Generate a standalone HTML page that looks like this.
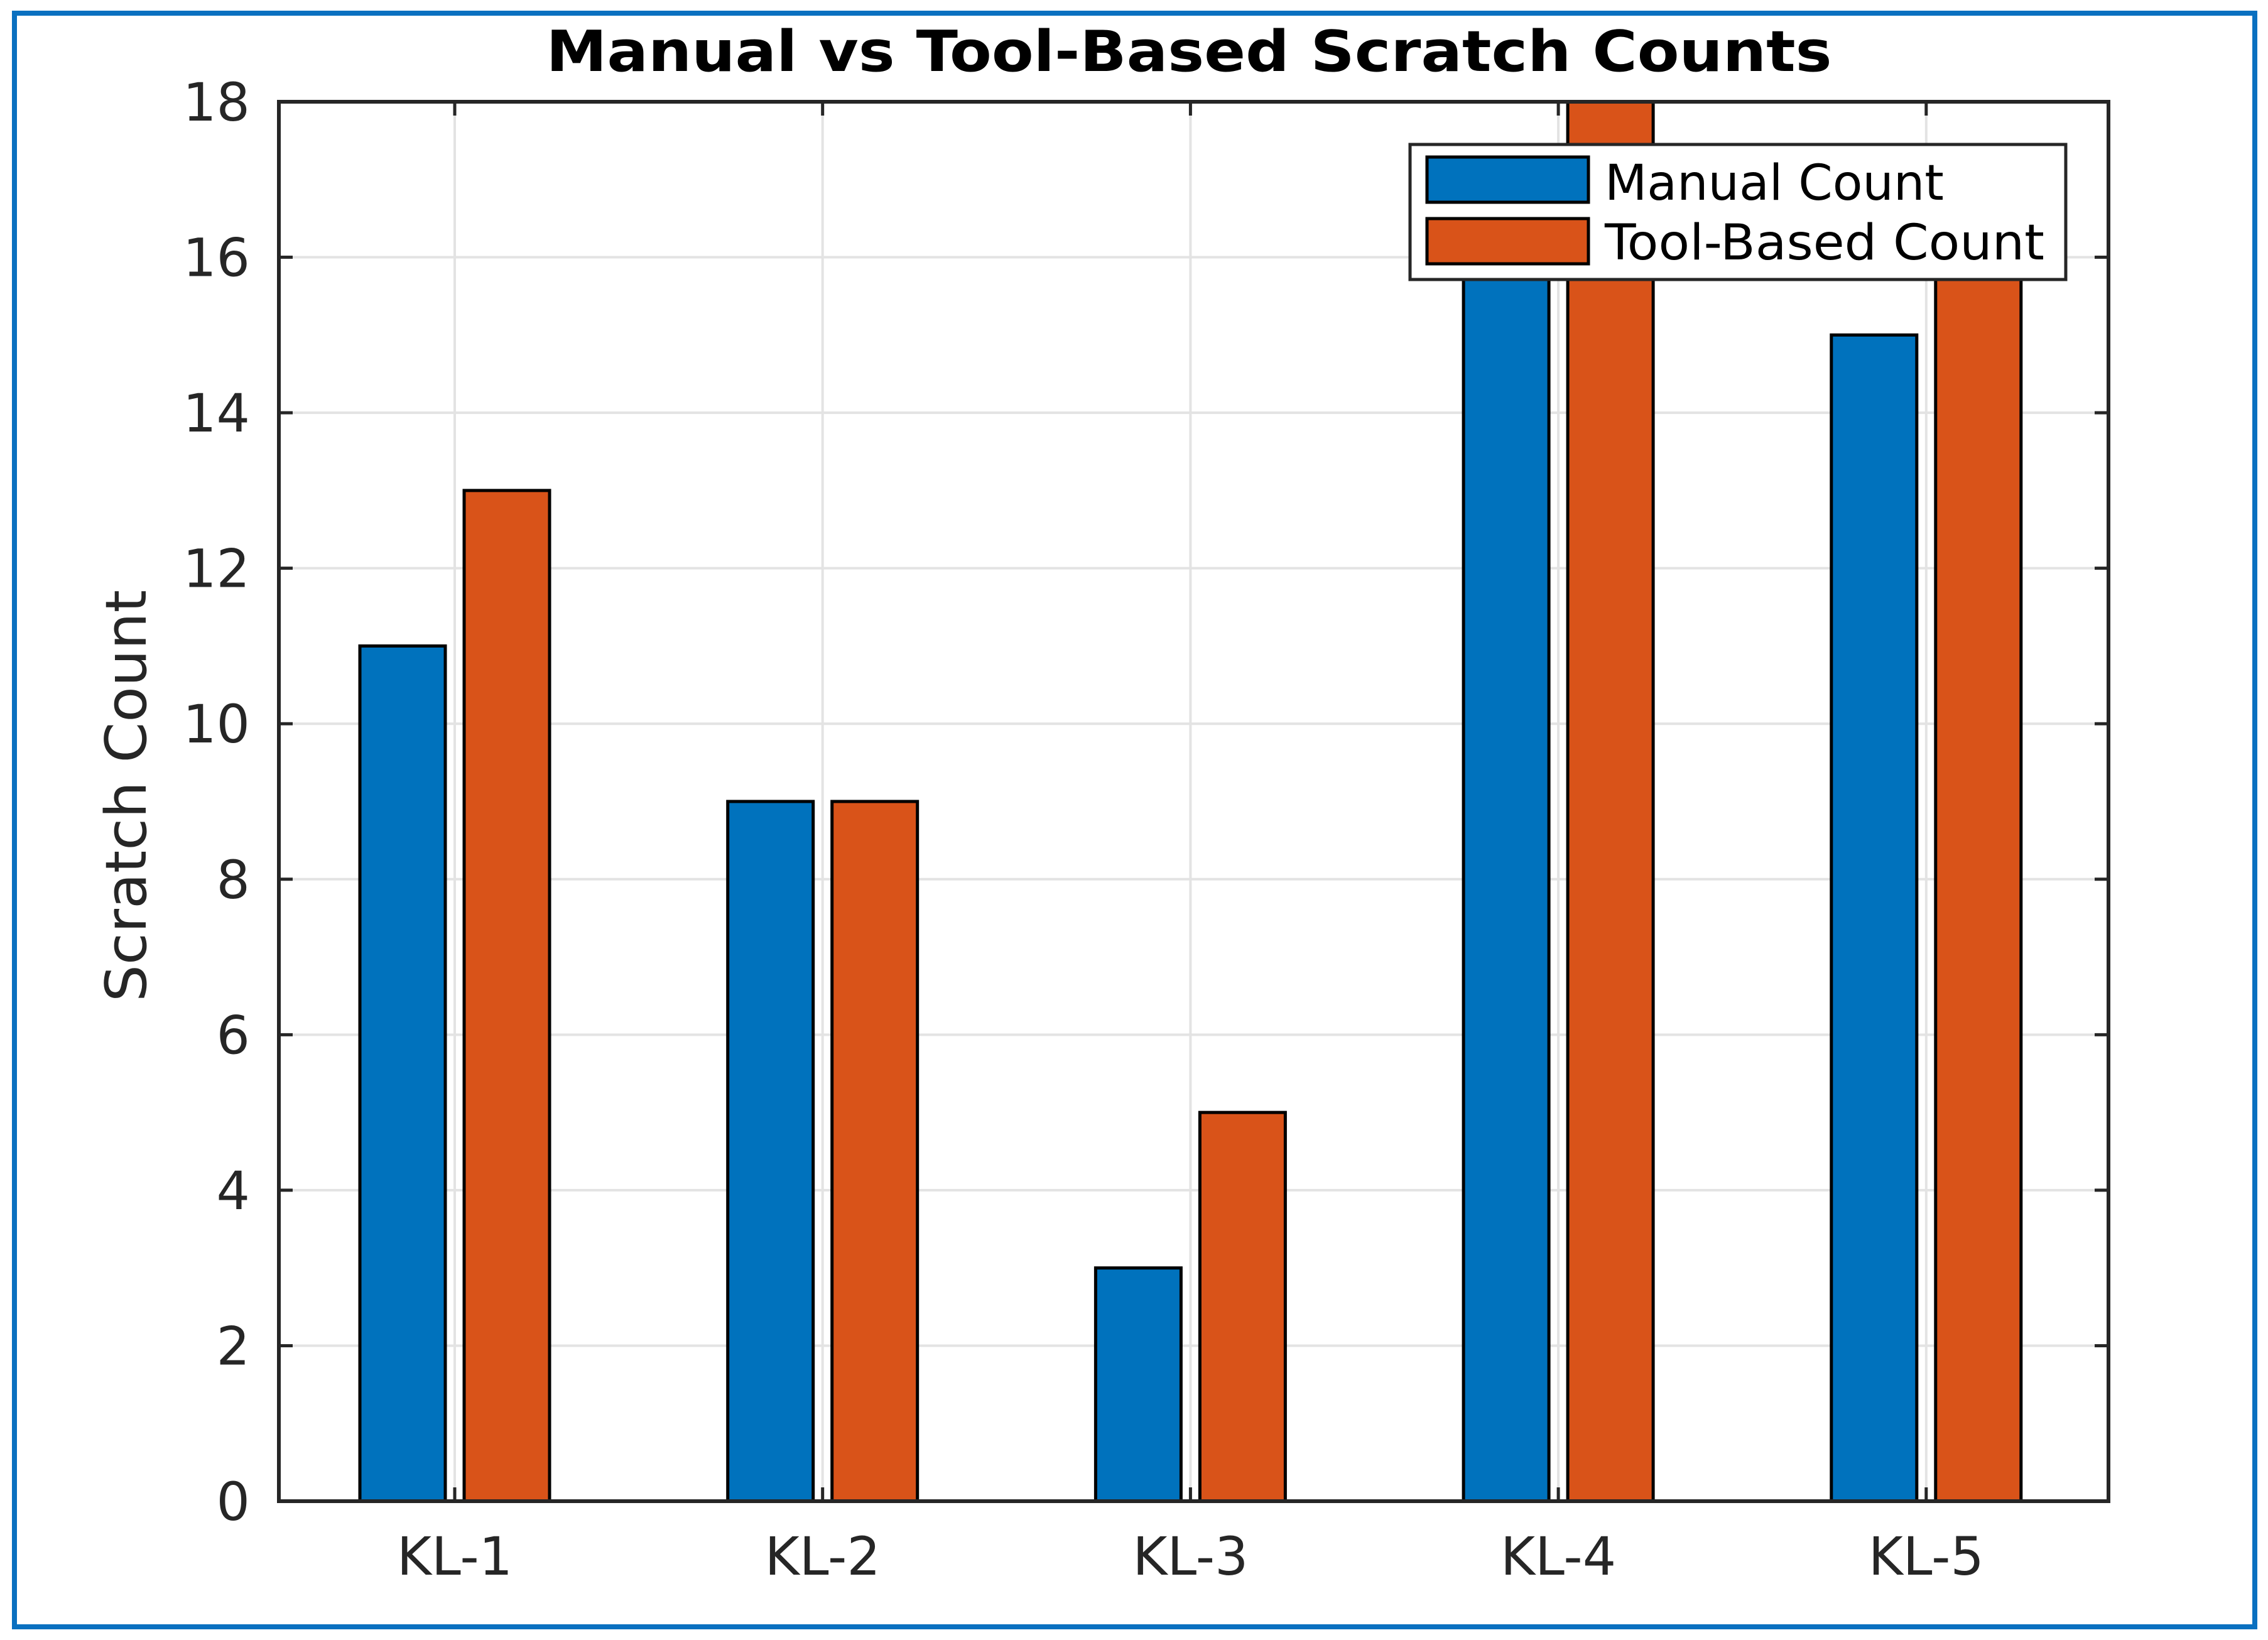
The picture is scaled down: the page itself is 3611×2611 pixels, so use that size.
<!DOCTYPE html>
<html><head><meta charset="utf-8"><style>
html,body{margin:0;padding:0;background:#fff;}
svg{display:block;}
text{font-family:"DejaVu Sans","Liberation Sans",sans-serif;}
</style></head><body>
<svg id="chart" width="3611" height="2611" viewBox="0 0 3611 2611" xmlns="http://www.w3.org/2000/svg">
<rect x="0" y="0" width="3611" height="2611" fill="#fff"/>
<rect x="23" y="21" width="3567" height="2569" fill="none" stroke="#0A70C0" stroke-width="8"/>
<g id="grid"></g>
<g id="bars"></g>
<g id="axes"></g>
<text x="1893" y="113" text-anchor="middle" font-size="90" font-weight="bold" fill="#000" textLength="2047" lengthAdjust="spacingAndGlyphs">Manual vs Tool-Based Scratch Counts</text>
<text transform="translate(232,1267) rotate(-90)" text-anchor="middle" font-size="90" fill="#262626" textLength="656" lengthAdjust="spacingAndGlyphs">Scratch Count</text>
<g>
<rect x="2245" y="230" width="1044" height="215" fill="#fff" stroke="#262626" stroke-width="5"/>
<rect x="2272" y="250" width="257" height="72" fill="#0072BD" stroke="#000" stroke-width="5"/>
<text x="2555" y="318" font-size="78" fill="#000">Manual Count</text>
<rect x="2272" y="348" width="257" height="72" fill="#D95319" stroke="#000" stroke-width="5"/>
<text x="2555" y="413" font-size="78" fill="#000" textLength="700" lengthAdjust="spacingAndGlyphs">Tool-Based Count</text>
</g>
</svg>
<script>
const categories = ["KL-1","KL-2","KL-3","KL-4","KL-5"];
const manualValues = [11, 9, 3, 17, 15];
const toolValues = [13, 9, 5, 18, 17];
const yTicks = [0,2,4,6,8,10,12,14,16,18];
const yMin = 0, yMax = 18;

const L = 444, R = 3357, T = 162, B = 2390;
const NS = "http://www.w3.org/2000/svg";
function yScale(v){ return B - (v - yMin) / (yMax - yMin) * (B - T); }
function xScale(i){ return 724 + i * 585.7; }
const barW = 136, off = 83;

function mk(tag, attrs, parent){
  const e = document.createElementNS(NS, tag);
  for (const k in attrs) e.setAttribute(k, attrs[k]);
  parent.appendChild(e);
  return e;
}
const grid = document.getElementById('grid');
const bars = document.getElementById('bars');
const axes = document.getElementById('axes');

yTicks.forEach(v => {
  const y = yScale(v);
  const g = mk('line', {x1:L, x2:R, y1:y, y2:y, stroke:'#e3e3e3', 'stroke-width':4}, grid);
  
  
  const t1 = mk('line', {x1:L, x2:L+22, y1:y, y2:y, stroke:'#262626', 'stroke-width':5}, axes);
  
  
  const t2 = mk('line', {x1:R-22, x2:R, y1:y, y2:y, stroke:'#262626', 'stroke-width':5}, axes);
  
  
  const lab = mk('text', {x:398, y:y+30, 'text-anchor':'end', 'font-size':84, fill:'#262626'}, axes);
  lab.textContent = v;
  
  
});
categories.forEach((c, i) => {
  const x = xScale(i);
  const g = mk('line', {x1:x, x2:x, y1:T, y2:B, stroke:'#e3e3e3', 'stroke-width':4}, grid);
  
  
  const t1 = mk('line', {x1:x, x2:x, y1:B-22, y2:B, stroke:'#262626', 'stroke-width':5}, axes);
  
  
  const t2 = mk('line', {x1:x, x2:x, y1:T, y2:T+22, stroke:'#262626', 'stroke-width':5}, axes);
  
  
  const lab = mk('text', {x:x, y:2507, 'text-anchor':'middle', 'font-size':84, fill:'#262626'}, axes);
  lab.textContent = c;
  
  

  const ym = yScale(manualValues[i]);
  const b1 = mk('rect', {x:x-off-barW/2, y:ym, width:barW, height:B-ym, fill:'#0072BD', stroke:'#000', 'stroke-width':5}, bars);
  
  
  const yt = yScale(toolValues[i]);
  const b2 = mk('rect', {x:x+off-barW/2, y:yt, width:barW, height:B-yt, fill:'#D95319', stroke:'#000', 'stroke-width':5}, bars);
  
  
});
const frame = mk('rect', {x:L, y:T, width:R-L, height:B-T, fill:'none', stroke:'#262626', 'stroke-width':6}, axes);


</script>
</body></html>
